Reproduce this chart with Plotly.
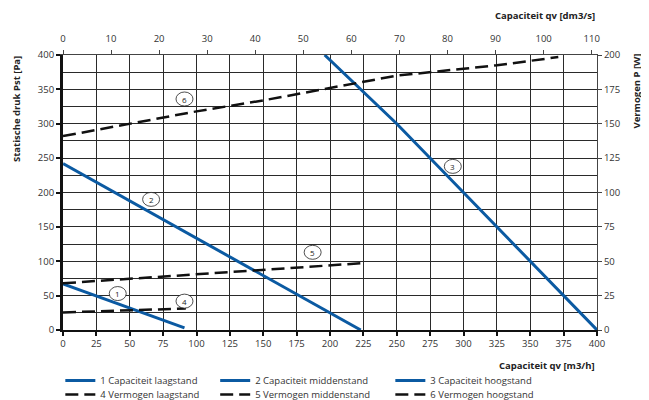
import plotly.graph_objects as go

# --- data ---
cap_laag_x = [0, 91]
cap_laag_y = [67, 3]                    # Pa
cap_mid_x = [0, 223]
cap_mid_y = [242, 0]                    # Pa
cap_hoog_x = [196, 250, 300, 350, 400]
cap_hoog_y = [400, 300, 200, 100, 0]    # Pa

verm_laag_x = [0, 92]
verm_laag_y = [12.8, 15.6]              # W
verm_mid_x = [0, 223]
verm_mid_y = [34, 48.5]                 # W
verm_hoog_x = [0, 50, 100, 150, 200, 250, 300, 325, 371]
verm_hoog_y = [141, 150, 159, 167, 176, 185, 190, 192.5, 198.5]  # W

names = ["1 Capaciteit laagstand", "2 Capaciteit middenstand", "3 Capaciteit hoogstand",
         "4 Vermogen laagstand", "5 Vermogen middenstand", "6 Vermogen hoogstand"]

label_nums = ["1", "2", "3", "4", "5", "6"]
label_x = [41, 66, 292, 91, 187, 91]        # m3/h
label_y = [53, 190, 238, 42, 113, 336]      # Pa

x_ticks = list(range(0, 401, 25))
top_ticks = list(range(0, 111, 10))
left_ticks = list(range(0, 401, 50))
right_ticks = list(range(0, 201, 25))

BLUE = "#0b5aa2"
FONT = "Open Sans"

legend_ids = ["legend", "legend2", "legend3", "legend4", "legend5", "legend6"]

fig = go.Figure()
fig.add_trace(go.Scatter(x=cap_laag_x, y=cap_laag_y, mode="lines", name=names[0], legend=legend_ids[0],
                         line=dict(color=BLUE, width=3)))
fig.add_trace(go.Scatter(x=cap_mid_x, y=cap_mid_y, mode="lines", name=names[1], legend=legend_ids[1],
                         line=dict(color=BLUE, width=3)))
fig.add_trace(go.Scatter(x=cap_hoog_x, y=cap_hoog_y, mode="lines", name=names[2], legend=legend_ids[2],
                         line=dict(color=BLUE, width=3)))
dash = "13px,6px"
fig.add_trace(go.Scatter(x=verm_laag_x, y=verm_laag_y, mode="lines", name=names[3], yaxis="y2",
                         legend=legend_ids[3], line=dict(color="#111", width=2.5, dash=dash)))
fig.add_trace(go.Scatter(x=verm_mid_x, y=verm_mid_y, mode="lines", name=names[4], yaxis="y2",
                         legend=legend_ids[4], line=dict(color="#111", width=2.5, dash=dash)))
fig.add_trace(go.Scatter(x=verm_hoog_x, y=verm_hoog_y, mode="lines", name=names[5], yaxis="y2",
                         legend=legend_ids[5], line=dict(color="#111", width=2.5, dash=dash)))
# invisible trace to anchor the top axis
fig.add_trace(go.Scatter(x=[0, 400 / 3.6], y=[0, 0], xaxis="x2", mode="lines",
                         line=dict(width=0), showlegend=False, hoverinfo="skip"))

shapes = []
annotations = []
for n, lx, ly in zip(label_nums, label_x, label_y):
    shapes.append(dict(type="circle", xref="x", yref="y", xsizemode="pixel", ysizemode="pixel",
                       xanchor=lx, yanchor=ly, x0=-8.5, x1=8.5, y0=-7, y1=7,
                       line=dict(color="#222", width=0.8), fillcolor="white", layer="above"))
    annotations.append(dict(x=lx, y=ly, xref="x", yref="y", text=n, showarrow=False,
                            font=dict(family=FONT, size=8, color="#222")))

annotations += [
    dict(x=1, y=1, xref="paper", yref="paper", yshift=40, xanchor="right", yanchor="middle",
         text="<b>Capaciteit qv [dm3/s]</b>", showarrow=False,
         font=dict(family=FONT, size=9.5, color="#222")),
    dict(x=1, y=0, xref="paper", yref="paper", yshift=-35, xanchor="right", yanchor="middle",
         text="<b>Capaciteit qv [m3/h]</b>", showarrow=False,
         font=dict(family=FONT, size=9.5, color="#222")),
    dict(x=0, y=1, xref="paper", yref="paper", xshift=-47, yshift=1, xanchor="center", yanchor="top",
         text="<b>Statische druk Pst [Pa]</b>", textangle=-90, showarrow=False,
         font=dict(family=FONT, size=9.5, color="#222")),
    dict(x=1, y=1, xref="paper", yref="paper", xshift=39, yshift=3, xanchor="center", yanchor="top",
         text="<b>Vermogen P [W]</b>", textangle=-90, showarrow=False,
         font=dict(family=FONT, size=9.5, color="#222")),
]

tickfont = dict(family=FONT, size=9.5, color="#333")
grid = "#2a2a2a"

legend_x = [-0.005, 0.285, 0.613, -0.005, 0.285, 0.613]
legend_y = [-0.131, -0.131, -0.131, -0.182, -0.182, -0.182]
legends = {}
for lid, lx, ly in zip(legend_ids, legend_x, legend_y):
    legends[lid] = dict(orientation="h", x=lx, y=ly, xanchor="left", yanchor="top",
                        font=dict(family=FONT, size=9.5, color="#333"), itemwidth=30,
                        bgcolor="rgba(0,0,0,0)")

fig.update_layout(
    width=641, height=392,
    margin=dict(l=55, r=52, t=47, b=70, autoexpand=False),
    paper_bgcolor="white", plot_bgcolor="white",
    font=dict(family=FONT, size=9, color="#333"),
    xaxis=dict(range=[0, 400], tickvals=x_ticks, showgrid=True, gridcolor=grid, gridwidth=1,
               zeroline=False, showline=True, linecolor="#111", linewidth=2, automargin=False,
               ticks="outside", ticklen=4, tickcolor="#111", tickwidth=1.5, tickfont=tickfont),
    xaxis2=dict(range=[0, 400 / 3.6], tickvals=top_ticks, overlaying="x", side="top",
                showgrid=False, zeroline=False, showline=True, linecolor="#444", linewidth=1,
                automargin=False, ticklabelstandoff=4,
                ticks="outside", ticklen=4, tickcolor="#444", tickfont=tickfont),
    yaxis=dict(range=[0, 400], tickvals=left_ticks, showgrid=True, gridcolor=grid, gridwidth=1,
               minor=dict(dtick=25, showgrid=True, gridcolor=grid, gridwidth=1, ticks=""),
               zeroline=False, showline=True, linecolor="#111", linewidth=3, automargin=False,
               ticks="outside", ticklen=4, tickcolor="#111", tickwidth=1.5, tickfont=tickfont),
    yaxis2=dict(range=[0, 200], tickvals=right_ticks, overlaying="y", side="right",
                showgrid=False, zeroline=False, showline=True, linecolor="#444", linewidth=1,
                automargin=False,
                ticks="outside", ticklen=4, tickcolor="#444", tickfont=tickfont),
    showlegend=True,
    shapes=shapes, annotations=annotations,
    **legends,
)

fig.write_html("out.html")
